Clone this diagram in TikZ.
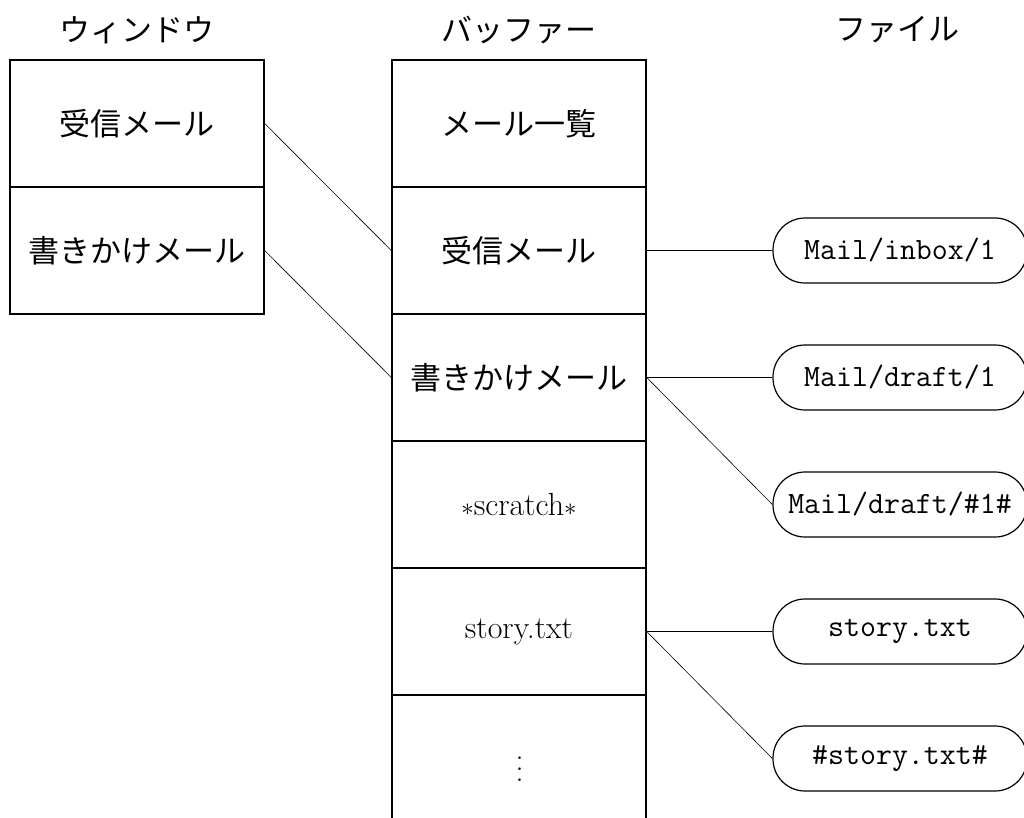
\documentclass[tikz,border=0pt]{standalone}
\usepackage{fontspec}
\newfontfamily\jp{Noto Sans CJK JP}
\begin{document}
\begin{tikzpicture}[x=1pt,y=-1pt,
  cell/.style={draw,line width=1.4pt,minimum width=254pt,minimum height=127pt,inner sep=0pt,font=\jp\fontsize{31}{36}\selectfont},
  rmcell/.style={cell,font=\fontsize{32}{36}\selectfont},
  head/.style={inner sep=0pt,font=\jp\fontsize{31}{36}\selectfont},
  file/.style={draw,line width=1.2pt,rounded corners=32pt,minimum width=254pt,minimum height=65pt,inner sep=0pt,font=\ttfamily\fontsize{31}{36}\selectfont},
  link/.style={line width=0.6pt}]
\useasboundingbox (0,0) rectangle (1024,818);
\node[head] (hw) at (137,30) {ウィンドウ};
\node[head] (hb) at (519,30) {バッファー};
\node[head] (hf) at (897,30) {ファイル};
\node[cell] (w1) at (137,123.5) {受信メール};
\node[cell] (w2) at (137,250.5) {書きかけメール};
\node[cell] (b1) at (519,123.5) {メール一覧};
\node[cell] (b2) at (519,250.5) {受信メール};
\node[cell] (b3) at (519,377.5) {書きかけメール};
\node[rmcell] (b4) at (519,504.5) {$\ast$scratch$\ast$};
\node[rmcell] (b5) at (519,631.5) {story.txt};
\node[rmcell] (b6) at (519,758.5) {};
\node[inner sep=0pt,font=\fontsize{32}{36}\selectfont] (dots) at (519.5,769)
  {\vbox{\baselineskip=11pt\lineskiplimit=-20pt\hbox{.}\hbox{.}\hbox{.}}};
\node[file] (f1) at (900,250.5) {Mail/inbox/1};
\node[file] (f2) at (900,377.5) {Mail/draft/1};
\node[file] (f3) at (900,504.5) {Mail/draft/\#1\#};
\node[file] (f4) at (900,631.5) {story.txt};
\node[file] (f5) at (900,758.5) {\#story.txt\#};
\draw[link] (w1.east) -- (b2.west);
\draw[link] (w2.east) -- (b3.west);
\draw[link] (b2.east) -- (f1.west);
\draw[link] (b3.east) -- (f2.west);
\draw[link] (b3.east) -- (f3.west);
\draw[link] (b5.east) -- (f4.west);
\draw[link] (b5.east) -- (f5.west);
\end{tikzpicture}
\end{document}
